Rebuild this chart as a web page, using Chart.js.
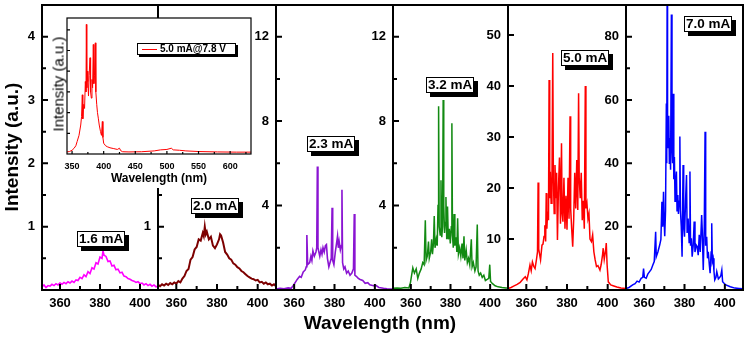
<!DOCTYPE html>
<html>
<head>
<meta charset="utf-8">
<script src="https://cdn.jsdelivr.net/npm/chart.js@4.4.1/dist/chart.umd.min.js"></script>
<style>
  body { margin: 0; background: #fff; }
  #wrap { position: relative; width: 748px; height: 339px; overflow: hidden; font-family: Arial, "Liberation Sans", sans-serif; }
  #wrap canvas { position: absolute; top: 0; }
  .tag { position: absolute; background: #fff; border: 1px solid #000; box-shadow: 4px 4px 0 #000; font-weight: bold; font-size: 13.5px; line-height: 14px; padding: 0 1px; white-space: nowrap; z-index: 5; }
  .title { position: absolute; font-weight: bold; white-space: nowrap; transform: translate(-50%, -50%); z-index: 5; }
  #leg { position: absolute; left: 137px; top: 43px; width: 97px; height: 10px; border: 1px solid #000; box-shadow: 2px 2px 0 #000; background: #fff; font-weight: bold; font-size: 10px; line-height: 10px; white-space: nowrap; z-index: 6; }
  #leg .ln { display: inline-block; width: 15px; border-top: 1px solid #f00; vertical-align: middle; margin: 0 3px 0 4px; }
</style>
</head>
<body>
<div id="wrap">
  <div class="title" style="left:12px;top:147px;font-size:19px;transform:translate(-50%,-50%) rotate(-90deg)">Intensity (a.u.)</div>
  <div class="title" style="left:380px;top:323px;font-size:19px">Wavelength (nm)</div>
  <div class="title" style="left:159px;top:178px;font-size:12px">Wavelength (nm)</div>
  <div class="title" style="left:58px;top:84px;font-size:15px;font-weight:normal;transform:translate(-50%,-50%) rotate(-90deg)">Intensity (a.u.)</div>
  <div id="leg"><span class="ln"></span>5.0 mA@7.8 V</div>
</div>
<script>
// spectra: wavelength (nm) and intensity (a.u.)
var currents = ['1.6 mA', '2.0 mA', '2.3 mA', '3.2 mA', '5.0 mA', '7.0 mA'];

var wave16 = [351,352,353,354,355,356,357,358,359,360, 361,362,363,364,365,366,367,368,369,370,
  371,372,373,374,375,376,377,378,379,380, 381,381.5,382,383,384,385,386,387,388,389,
  390,391,392,393,394,395,396,397,398,399, 400,401,402,403,404,405,406,407,408,409];
var int16 = [0.05,0.08,0.04,0.07,0.06,0.09,0.07,0.10,0.08,0.11, 0.09,0.12,0.10,0.13,0.11,0.14,0.12,0.16,0.15,0.20,
  0.18,0.24,0.21,0.29,0.26,0.35,0.33,0.43,0.41,0.52, 0.50,0.62,0.55,0.53,0.45,0.46,0.38,0.39,0.32,0.33,
  0.27,0.28,0.22,0.21,0.18,0.17,0.15,0.14,0.12,0.13, 0.10,0.11,0.08,0.10,0.07,0.09,0.06,0.08,0.05,0.06];

var wave20 = [351,352,353,354,355,356,357,358,359,360, 361,362,363,364,365,366,367,368,369,370,
  371,372,373,373.5,374,374.5,375,376,377,378, 379,380,381,381.5,382,383,384,385,386,387,
  388,389,390,391,392,393,394,395,396,397, 398,399,400,401,402,403,404,405,406,407, 408,409];
var int20 = [0.08,0.06,0.09,0.07,0.10,0.08,0.11,0.09,0.12,0.10, 0.14,0.12,0.18,0.22,0.30,0.33,0.48,0.52,0.64,0.68,
  0.80,0.78,0.90,0.85,1.00,0.88,0.92,0.80,0.84,0.70, 0.66,0.72,0.80,0.88,0.86,0.75,0.60,0.56,0.50,0.48,
  0.42,0.40,0.36,0.34,0.30,0.28,0.25,0.22,0.20,0.18, 0.17,0.15,0.16,0.12,0.13,0.10,0.12,0.09,0.10,0.07, 0.09,0.06];

var wave23 = [351,353,355,357,358.5,359.5,360.5,361.5,362.7,363.5, 364.5,365.5,366,366.3,366.7,367.7,368.3,368.8,369.3,370,
  370.8,371.2,371.5,371.8,372.7,373.3,373.8,374.3,374.9,375.5, 376,376.5,377.2,377.8,378.4,378.8,379.1,379.7,380.4,381,
  381.5,381.9,382.3,382.9,383.4,383.7,384,384.6,385.2,386, 386.8,387.7,388.6,389.4,389.8,390.1,390.8,391.8,392.7,394,
  395.2,396.5,397.5,399.3,400.5,402,404.3,406,408,409];
var int23 = [0.05,0.08,0.06,0.10,0.08,0.20,0.35,0.50,0.65,0.60, 0.85,0.95,1.10,2.60,1.20,1.30,1.60,1.40,1.85,1.60,
  1.80,2.00,5.85,2.00,1.60,1.90,1.70,2.00,1.80,2.10, 2.15,1.50,1.10,1.30,1.50,3.90,1.40,1.20,1.80,2.20,
  2.55,2.00,2.30,1.90,2.10,4.75,1.30,1.00,1.10,0.80, 0.90,0.70,0.80,1.00,3.60,0.70,0.65,0.55,0.50,0.45,
  0.32,0.35,0.25,0.20,0.22,0.12,0.08,0.06,0.05,0.04];

var wave32 = [351,353,355,357,359,359.8,360.4,361,361.8,362.7, 363.5,364.3,365.2,366,366.7,367.3,367.7,368.3,368.9,369.3,
  370,370.5,370.9,371.4,371.8,372.2,372.8,373.3,373.7,374, 374.3,374.8,375.2,375.6,376,376.3,376.6,377,377.3,377.7,
  378.1,378.5,378.9,379.4,379.9,380.4,380.7,381,381.4,381.8, 382.2,382.8,383.2,383.6,384,384.6,385.2,385.8,386.3,386.8,
  387.2,387.9,388.5,389.1,389.7,390.5,390.9,391.5,392.3,392.9, 393.5,393.9,394.5,395.2,396,396.8,397.6,398.5,399.3,399.8,
  400.2,401.2,402.5,404,406,408,409];
var int32 = [0.08,0.10,0.08,0.12,0.10,0.35,0.70,1.05,0.80,1.00, 0.55,0.80,1.00,1.30,1.20,3.30,1.40,1.60,2.30,1.50,
  1.80,2.40,1.70,2.20,3.50,2.00,2.40,2.10,4.00,8.70, 3.00,2.60,5.20,2.50,3.00,9.00,4.00,2.70,3.20,4.40,
  2.40,3.95,2.40,2.90,2.20,3.00,7.90,2.60,2.00,3.60, 2.10,2.50,1.80,3.40,1.70,2.00,1.60,2.20,1.50,2.55,
  1.40,1.90,1.30,1.50,1.20,2.40,1.10,1.30,0.90,1.10, 3.10,0.90,0.70,0.80,0.60,0.70,0.45,0.50,0.55,1.20,
  0.40,0.30,0.20,0.15,0.12,0.10,0.08];

var wave50 = [351,352.5,354,355.5,357,358.5,359.5,360.3,361,361.8, 362.4,363,363.7,364.3,365,365.5,365.8,366.1,367,367.7,
  368.2,368.7,369.1,369.5,369.8,370.1,370.5,370.9,371.2,371.5, 371.8,372.2,372.6,373,373.3,373.7,374.1,374.5,374.9,375.3,
  375.8,376.3,376.8,377.3,377.6,378,378.5,379,379.5,380, 380.5,381,381.5,381.8,382.3,382.8,383.3,383.8,384.3,384.8,
  385.3,385.7,386,386.5,387,387.5,388,388.5,389,389.3, 389.8,390.3,390.8,391.3,392,392.6,393.2,393.8,394.5,395.2,
  396.2,396.8,397.5,397.8,398.3,399,399.3,399.7,400.3,401.5, 403,404.5,406.5,409];
var int50 = [0.3,0.5,0.8,1.1,1.5,2.2,2.6,2.0,3.2,4.9, 3.8,5.5,4.6,4.2,6.0,7.5,21.1,8.0,5.9,8.8,
  9.0,10.5,12.7,9.5,19.0,12.0,15.4,13.7,41.2,18.0, 23.2,17.0,20.0,46.5,22.0,15.0,24.5,18.0,23.0,9.8,
  20.0,26.0,13.0,28.8,15.0,13.4,22.0,12.0,18.5,11.8, 22.0,14.0,34.1,16.0,12.0,8.5,14.0,23.0,16.0,25.5,
  15.7,38.6,22.0,18.0,23.0,13.7,17.5,12.0,40.0,16.0, 17.0,14.0,15.0,10.0,9.5,10.8,7.5,6.0,4.6,4.8,
  3.9,5.0,7.0,8.2,6.0,7.8,9.2,5.0,1.6,1.0, 0.8,0.6,0.4,0.3];

var wave70 = [351,352.5,354.3,355.5,356.5,357.5,358.5,359.3,359.7,360.1, 361,361.8,362.7,363.5,364.3,365,365.7,366,366.8,367.7,
  368.3,368.8,369.2,369.6,369.9,370.2,370.6,371,371.2,371.4, 371.6,371.9,372.2,372.5,372.8,373.1,373.5,373.8,374.1,374.4,
  374.7,375,375.3,375.6,376,376.3,376.7,377,377.4,377.7, 378,378.4,378.8,379.3,379.6,380,380.5,381,381.3,381.8,
  382.3,382.7,383,383.4,383.8,384.3,384.8,385.2,385.8,386.3, 386.8,387.3,387.8,388.5,388.8,389.3,389.8,390.2,390.5,391,
  391.4,391.8,392.3,392.7,393.2,393.5,393.8,394.2,394.6,395, 395.6,396,396.8,397.5,398,398.5,398.9,399.5,400.5,402.7,
  405,407,409];
var int70 = [0.5,0.8,1.6,2.0,2.8,2.5,3.7,4.0,6.8,4.0, 3.7,5.0,5.8,6.5,7.9,9.0,18.4,10.5,12.0,14.2,
  16.0,27.9,20.0,31.0,22.0,17.0,25.0,58.9,40.0,95.0, 50.0,45.0,55.0,40.0,48.0,38.0,87.0,45.0,40.0,62.0,
  35.0,42.0,28.0,33.0,37.4,25.0,30.0,24.0,28.0,48.5, 25.0,20.0,10.5,39.5,20.0,16.8,27.9,36.3,18.0,22.6,
  15.0,37.4,14.0,16.3,10.5,14.0,21.6,12.0,14.2,13.7, 11.0,17.4,12.0,23.7,18.9,6.3,20.0,50.0,14.0,16.8,
  10.0,12.1,8.0,5.3,12.0,21.1,9.0,10.0,6.0,3.2, 4.0,5.8,3.5,4.0,4.5,6.3,2.6,2.2,1.6,1.05,
  0.6,0.5,0.4];

// inset: full spectrum at 5.0 mA / 7.8 V
var insetWave = [342,346,350,353,356,358,361,363.7,365,366.2, 367,368.5,369.8,371,372,372.6,373.3,374,375,376,
  377,378.4,379.3,380.5,381.5,382.5,383.6,384.5,385.5,386.8, 387.6,389,390.2,391.5,393,395,396.5,397.9,398.8,400,
  403,405.8,410,416,421.6,425,427,430,440,460, 480,490,500,507,510,520,530,550,580,610, 633];
var insetInt = [1.0,1.2,1.8,2.7,4.0,6.0,9.0,14.0,18.0,28.6, 17.0,24.0,22.0,35.0,30.0,62.6,32.0,40.0,35.0,28.0,
  38.0,46.5,30.0,27.0,36.0,32.0,52.9,34.0,38.0,53.7, 30.0,24.0,20.0,17.3,14.0,10.8,9.0,15.7,8.0,5.2,
  4.0,3.5,3.0,2.6,2.2,2.8,1.6,1.1,1.0,1.1, 1.5,2.0,2.2,2.8,2.0,1.8,1.5,1.2,1.0,0.9, 0.9];

// tick values
var xTicks = [360, 380, 400];
var xMinor = [370, 390];
var yTicksLow = [1, 2, 3, 4];
var yMinorLow = [0.5, 1.5, 2.5, 3.5];
var yTicksMid = [4, 8, 12];
var yMinorMid = [2, 6, 10];
var yTicks50 = [10, 20, 30, 40, 50];
var yTicks70 = [20, 40, 60, 80];
var yMinor70 = [10, 30, 50, 70];
var insetXTicks = [350, 400, 450, 500, 550, 600];
var insetXMinor = [375, 425, 475, 525, 575, 625];
var insetYTicks = [10, 20, 30, 40, 50, 60];

// layout and style
var edges = [42, 158, 276, 393, 508, 626, 743];
var colors = ['#ff00ff', '#7d0000', '#8a14d2', '#128a12', '#ff0000', '#0000ff'];
var widths = [1.6, 2, 1.6, 1.5, 1.5, 1.5];
var tagPos = [[77, 231], [191, 198], [307, 136], [426, 77], [561, 50], [684, 16]];
var fam = 'Arial, "Liberation Sans", sans-serif';

var panels = [
  { wave: wave16, vals: int16, yMax: 4.5, ticks: yTicksLow, minor: yMinorLow },
  { wave: wave20, vals: int20, yMax: 4.5, ticks: yTicksLow, minor: yMinorLow },
  { wave: wave23, vals: int23, yMax: 13.5, ticks: yTicksMid, minor: yMinorMid },
  { wave: wave32, vals: int32, yMax: 13.5, ticks: yTicksMid, minor: yMinorMid },
  { wave: wave50, vals: int50, yMax: 55.9, ticks: yTicks50, minor: [] },
  { wave: wave70, vals: int70, yMax: 90, ticks: yTicks70, minor: yMinor70 }
];

var wrap = document.getElementById('wrap');

function framePlugin(o) {
  return {
    id: 'frame',
    beforeDraw: function(chart) {
      if (!o.fill) return;
      // inset sits on a white card that also hides what lies under its labels
      var a = chart.chartArea, c = chart.ctx;
      c.save();
      c.fillStyle = '#fff';
      c.fillRect(a.left - 17, a.top, a.right - a.left + 17, chart.height - a.top - 12);
      c.restore();
    },
    afterDatasetsDraw: function(chart) {
      var a = chart.chartArea, c = chart.ctx, sx = chart.scales.x, sy = chart.scales.y;
      c.save();
      c.strokeStyle = '#000';
      c.lineWidth = o.lw;
      c.beginPath();
      o.yMajor.forEach(function(v) { var p = sy.getPixelForValue(v); c.moveTo(a.left, p); c.lineTo(a.left + o.big, p); });
      o.yMinor.forEach(function(v) { var p = sy.getPixelForValue(v); c.moveTo(a.left, p); c.lineTo(a.left + o.small, p); });
      o.xMajor.forEach(function(v) { var p = sx.getPixelForValue(v); c.moveTo(p, a.bottom); c.lineTo(p, a.bottom - o.big); });
      o.xMinor.forEach(function(v) { var p = sx.getPixelForValue(v); c.moveTo(p, a.bottom); c.lineTo(p, a.bottom - o.small); });
      c.stroke();
      c.strokeRect(a.left, a.top, a.right - a.left, a.bottom - a.top);
      c.restore();
    }
  };
}

panels.forEach(function(p, i) {
  var L = edges[i], R = edges[i + 1];
  var cv = document.createElement('canvas');
  cv.width = R - L + 42;
  cv.height = 339;
  cv.style.left = (L - 40) + 'px';
  cv.style.zIndex = 1;
  wrap.appendChild(cv);

  new Chart(cv, {
    type: 'line',
    data: {
      datasets: [{
        label: currents[i],
        data: p.wave.map(function(w, k) { return { x: w, y: p.vals[k] }; }),
        borderColor: colors[i],
        borderWidth: widths[i],
        pointRadius: 0,
        tension: 0
      }]
    },
    options: {
      responsive: false,
      animation: false,
      events: [],
      layout: { padding: { top: 5, right: 2, left: 0, bottom: 0 } },
      plugins: { legend: { display: false }, tooltip: { enabled: false } },
      scales: {
        x: {
          type: 'linear', min: 351, max: 409,
          grid: { display: false, drawTicks: false },
          border: { display: false },
          afterBuildTicks: function(s) { s.ticks = xTicks.map(function(v) { return { value: v }; }); },
          afterFit: function(s) { s.height = 49; s.paddingLeft = 0; s.paddingRight = 0; },
          ticks: { color: '#000', padding: 6, maxRotation: 0, autoSkip: false,
            font: { family: fam, size: 13, weight: 'bold' },
            callback: function(v) { return String(v); } }
        },
        y: {
          type: 'linear', min: 0, max: p.yMax,
          grid: { display: false, drawTicks: false },
          border: { display: false },
          afterBuildTicks: function(s) { s.ticks = p.ticks.map(function(v) { return { value: v }; }); },
          afterFit: function(s) { s.width = 40; s.paddingTop = 0; s.paddingBottom = 0; },
          ticks: { color: '#000', padding: 7, autoSkip: false,
            font: { family: fam, size: 13, weight: 'bold' },
            callback: function(v) { return String(v); } }
        }
      }
    },
    plugins: [framePlugin({ lw: 2, big: 6, small: 4, yMajor: p.ticks, yMinor: p.minor, xMajor: xTicks, xMinor: xMinor })]
  });

  var tag = document.createElement('div');
  tag.className = 'tag';
  tag.textContent = currents[i];
  tag.style.left = tagPos[i][0] + 'px';
  tag.style.top = tagPos[i][1] + 'px';
  wrap.appendChild(tag);
});

// inset chart
var icv = document.createElement('canvas');
icv.width = 230;
icv.height = 200;
icv.style.left = '40px';
icv.style.zIndex = 3;
wrap.appendChild(icv);

new Chart(icv, {
  type: 'line',
  data: {
    datasets: [{
      label: '5.0 mA@7.8 V',
      data: insetWave.map(function(w, k) { return { x: w, y: insetInt[k] }; }),
      borderColor: '#ff0000',
      borderWidth: 1,
      pointRadius: 0,
      tension: 0
    }]
  },
  options: {
    responsive: false,
    animation: false,
    events: [],
    layout: { padding: { top: 18, right: 19, left: 0, bottom: 0 } },
    plugins: { legend: { display: false }, tooltip: { enabled: false } },
    scales: {
      x: {
        type: 'linear', min: 342, max: 633,
        grid: { display: false, drawTicks: false },
        border: { display: false },
        afterBuildTicks: function(s) { s.ticks = insetXTicks.map(function(v) { return { value: v }; }); },
        afterFit: function(s) { s.height = 46; s.paddingLeft = 0; s.paddingRight = 0; },
        ticks: { color: '#000', padding: 7, maxRotation: 0, autoSkip: false,
          font: { family: fam, size: 9, weight: 'bold' },
          callback: function(v) { return String(v); } }
      },
      y: {
        type: 'linear', min: 0, max: 65.7,
        grid: { display: false, drawTicks: false },
        border: { display: false },
        afterFit: function(s) { s.width = 27; s.paddingTop = 0; s.paddingBottom = 0; },
        ticks: { display: false }
      }
    }
  },
  plugins: [framePlugin({ fill: true, lw: 1.2, big: 3, small: 2, yMajor: insetYTicks, yMinor: [], xMajor: insetXTicks, xMinor: insetXMinor })]
});
</script>
</body>
</html>
